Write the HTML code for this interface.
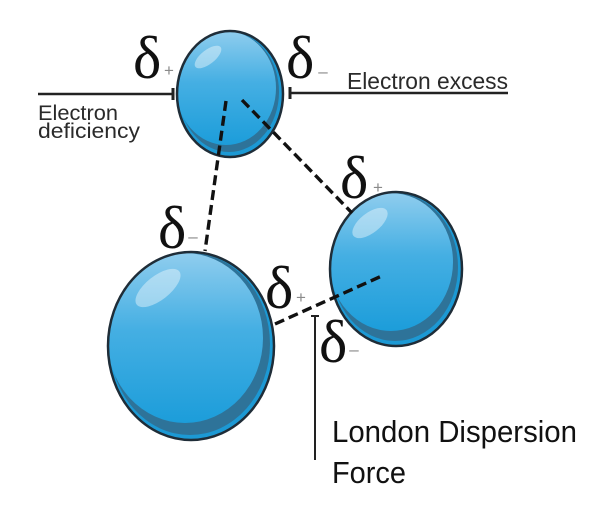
<!DOCTYPE html>
<html><head><meta charset="utf-8"><style>
html,body{margin:0;padding:0;background:#fff;}
svg{display:block;}
</style></head><body>
<svg width="602" height="529" viewBox="0 0 602 529" xmlns="http://www.w3.org/2000/svg">
<defs>
<linearGradient id="g" x1="0" y1="0" x2="0" y2="1">
<stop offset="0" stop-color="#8fcdee"/>
<stop offset="0.45" stop-color="#45afe3"/>
<stop offset="1" stop-color="#1c9dda"/>
</linearGradient>
<clipPath id="c1"><ellipse cx="230" cy="94" rx="53" ry="63"/></clipPath>
<clipPath id="c2"><ellipse cx="191" cy="346" rx="83" ry="94"/></clipPath>
<clipPath id="c3"><ellipse cx="396" cy="269" rx="66" ry="77"/></clipPath>
</defs>

<!-- arrows -->
<line x1="38" y1="94" x2="173" y2="94" stroke="#222" stroke-width="2.5"/>
<line x1="173" y1="88" x2="173" y2="100" stroke="#222" stroke-width="3"/>
<line x1="290" y1="93" x2="508" y2="93" stroke="#222" stroke-width="2.5"/>
<line x1="290" y1="87" x2="290" y2="99" stroke="#222" stroke-width="3"/>

<!-- top sphere -->
<g>
<ellipse cx="230" cy="94" rx="53" ry="63" fill="#1c99d4"/>
<ellipse cx="229" cy="92" rx="50" ry="60" fill="#2e7399"/>
<ellipse cx="226" cy="88" rx="50" ry="57" fill="url(#g)" clip-path="url(#c1)"/>
<ellipse cx="208" cy="57" rx="16" ry="7" fill="#fff" opacity="0.4" transform="rotate(-38 208 57)"/>
<ellipse cx="230" cy="94" rx="53" ry="63" fill="none" stroke="#1f2d38" stroke-width="2.5"/>
</g>

<!-- left sphere -->
<g>
<ellipse cx="191" cy="346" rx="83" ry="94" fill="#1c99d4"/>
<ellipse cx="190" cy="344" rx="80" ry="91" fill="#2e7399"/>
<ellipse cx="185" cy="338" rx="78" ry="85" fill="url(#g)" clip-path="url(#c2)"/>
<ellipse cx="158" cy="288" rx="27" ry="12" fill="#fff" opacity="0.4" transform="rotate(-38 158 288)"/>
<ellipse cx="191" cy="346" rx="83" ry="94" fill="none" stroke="#1f2d38" stroke-width="2.5"/>
</g>

<!-- right sphere -->
<g>
<ellipse cx="396" cy="269" rx="66" ry="77" fill="#1c99d4"/>
<ellipse cx="395" cy="267" rx="63" ry="74" fill="#2e7399"/>
<ellipse cx="391" cy="262" rx="62" ry="69" fill="url(#g)" clip-path="url(#c3)"/>
<ellipse cx="370" cy="223" rx="21" ry="10" fill="#fff" opacity="0.4" transform="rotate(-38 370 223)"/>
<ellipse cx="396" cy="269" rx="66" ry="77" fill="none" stroke="#1f2d38" stroke-width="2.5"/>
</g>

<!-- dashed bonds -->
<g stroke="#111" stroke-width="3.4" stroke-dasharray="10 5" fill="none">
<line x1="226" y1="101" x2="205" y2="251"/>
<line x1="242" y1="100" x2="352" y2="213"/>
<line x1="275" y1="324" x2="384" y2="275"/>
</g>

<!-- London line -->
<line x1="315" y1="315" x2="315" y2="460" stroke="#222" stroke-width="2"/>
<line x1="311" y1="316" x2="319" y2="316" stroke="#222" stroke-width="2"/>

<!-- deltas -->
<g font-family="'Liberation Serif', 'DejaVu Serif', serif" font-size="60" fill="#111">
<text x="133" y="78">δ</text>
<text x="286" y="78">δ</text>
<text x="158" y="248">δ</text>
<text x="340" y="198">δ</text>
<text x="265" y="308">δ</text>
<text x="319" y="362">δ</text>
</g>
<g font-family="'Liberation Sans', sans-serif" font-size="17" fill="#8a8a8a" text-anchor="middle">
<text x="169" y="76">+</text>
<text x="323" y="77">–</text>
<text x="193" y="242">–</text>
<text x="378" y="193">+</text>
<text x="301" y="303">+</text>
<text x="354" y="355">–</text>
</g>

<!-- labels -->
<g font-family="'Liberation Sans', Arial, sans-serif" fill="#2a2a2a">
<text x="38" y="120" font-size="21" textLength="80" lengthAdjust="spacingAndGlyphs">Electron</text>
<text x="38" y="138" font-size="21" textLength="102" lengthAdjust="spacingAndGlyphs">deficiency</text>
<text x="347" y="89" font-size="23" textLength="161" lengthAdjust="spacingAndGlyphs">Electron excess</text>
</g>
<g font-family="'Liberation Sans', 'DejaVu Sans', sans-serif" fill="#111" font-size="31">
<text x="332" y="442" textLength="245" lengthAdjust="spacingAndGlyphs">London Dispersion</text>
<text x="332" y="483" textLength="74" lengthAdjust="spacingAndGlyphs">Force</text>
</g>
</svg>
</body></html>
